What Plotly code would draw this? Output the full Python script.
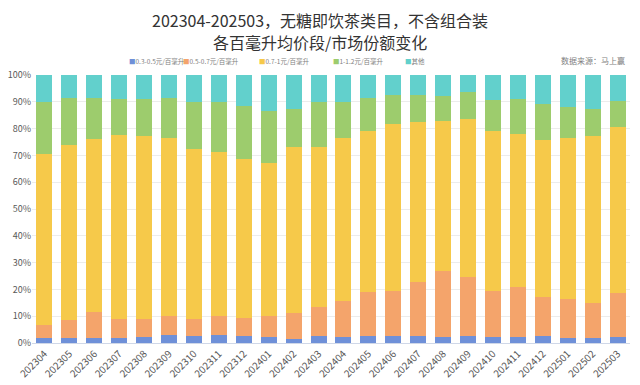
import plotly.graph_objects as go

months = ["202304", "202305", "202306", "202307", "202308", "202309", "202310", "202311",
          "202312", "202401", "202402", "202403", "202404", "202405", "202406", "202407",
          "202408", "202409", "202410", "202411", "202412", "202501", "202502", "202503"]

seg_03_05 = [1.9, 2.0, 2.0, 1.9, 2.1, 2.9, 2.6, 2.9, 2.6, 2.2, 1.6, 2.6,
             2.2, 2.6, 2.6, 2.5, 2.4, 2.6, 2.2, 2.4, 2.6, 2.0, 2.0, 2.2]
seg_05_07 = [4.7, 6.5, 9.5, 7.0, 6.9, 7.1, 6.4, 7.3, 6.6, 7.9, 9.5, 10.8,
             13.4, 16.3, 16.8, 20.4, 24.6, 21.9, 17.2, 18.6, 14.7, 14.5, 13.0, 16.4]
seg_07_1 = [64.0, 65.3, 64.6, 68.7, 68.4, 66.6, 63.5, 60.9, 59.6, 57.0, 62.0, 59.7,
            60.9, 60.2, 62.5, 59.5, 55.8, 59.1, 59.7, 56.9, 58.3, 60.0, 62.1, 62.0]
seg_1_12 = [19.2, 17.7, 15.5, 13.4, 13.6, 14.7, 17.5, 18.9, 19.6, 19.4, 14.4, 16.9,
            13.3, 12.4, 10.7, 10.0, 9.5, 9.9, 11.5, 13.2, 13.4, 11.6, 10.3, 9.8]
seg_other = [10.2, 8.5, 8.4, 9.0, 9.0, 8.7, 10.0, 10.0, 11.6, 13.5, 12.5, 10.0,
             10.2, 8.5, 7.4, 7.6, 7.7, 6.5, 9.4, 8.9, 11.0, 11.9, 12.6, 9.6]

series_names = ["0.3-0.5元/百毫升", "0.5-0.7元/百毫升", "0.7-1元/百毫升", "1-1.2元/百毫升", "其他"]
series_values = [seg_03_05, seg_05_07, seg_07_1, seg_1_12, seg_other]
colors = ["#6f90d8", "#f4a46b", "#f6c94a", "#9dcc6d", "#62d0cc"]

y_ticks = [0, 10, 20, 30, 40, 50, 60, 70, 80, 90, 100]
y_tick_labels = [f"{v}%" for v in y_ticks]

title_line1 = "202304-202503，无糖即饮茶类目，不含组合装"
title_line2 = "各百毫升均价段/市场份额变化"
source_text = "数据来源：马上赢"

FONT = "Noto Sans CJK SC"
OFF = 8  # page body margin offset
W, H = 640 - OFF, 385 - OFF
# plot area in screen pixels: x 32..630, y 75..343
ML, MR, MT, MB = 32 - OFF, 640 - 630, 75 - OFF, 385 - 343
PW, PH = W - ML - MR, H - MT - MB


def px_x(x):
    return (x - OFF - ML) / PW


def px_y(y):
    return (H - MB - (y - OFF)) / PH


fig = go.Figure()
for name, vals, col in zip(series_names, series_values, colors):
    fig.add_trace(go.Bar(x=months, y=vals, name=name, marker=dict(color=col, line=dict(width=0))))

fig.update_layout(
    barmode="stack",
    bargap=0.36,
    width=W, height=H,
    margin=dict(l=ML, r=MR, t=MT, b=MB, autoexpand=False),
    paper_bgcolor="white",
    plot_bgcolor="white",
    font=dict(family=FONT, color="#595959"),
    showlegend=False,
)
fig.update_xaxes(
    tickangle=-45, tickfont=dict(size=10, color="#595959"), automargin=False,
    showline=True, linecolor="#d0d8e8", linewidth=1, ticks="",
)
fig.update_yaxes(
    range=[0, 100], tickvals=y_ticks, ticktext=y_tick_labels, automargin=False,
    tickfont=dict(size=9, color="#595959"),
    showgrid=True, gridcolor="#ececec", gridwidth=1, zeroline=False,
)

# titles
for txt, yy in [(title_line1, 20), (title_line2, 42)]:
    fig.add_annotation(text=txt, xref="paper", yref="paper", x=px_x(320), y=px_y(yy),
                       xanchor="center", yanchor="middle", showarrow=False,
                       font=dict(family=FONT, size=16, color="#333333"))

# legend drawn as text entries with coloured square glyphs
legend_x = [127, 181, 257, 331, 403]
for name, col, lx in zip(series_names, colors, legend_x):
    fig.add_annotation(
        text=f"<span style='color:{col}'>■</span>{name}",
        xref="paper", yref="paper", x=px_x(lx), y=px_y(61),
        xanchor="left", yanchor="middle", showarrow=False,
        font=dict(family=FONT, size=6.5, color="#7f7f7f"),
    )

fig.add_annotation(
    text=source_text, xref="paper", yref="paper", x=px_x(627), xanchor="right",
    y=px_y(61), yanchor="middle", showarrow=False,
    font=dict(size=8, color="#7f7f7f", family=FONT),
)

fig.write_html("out.html")
